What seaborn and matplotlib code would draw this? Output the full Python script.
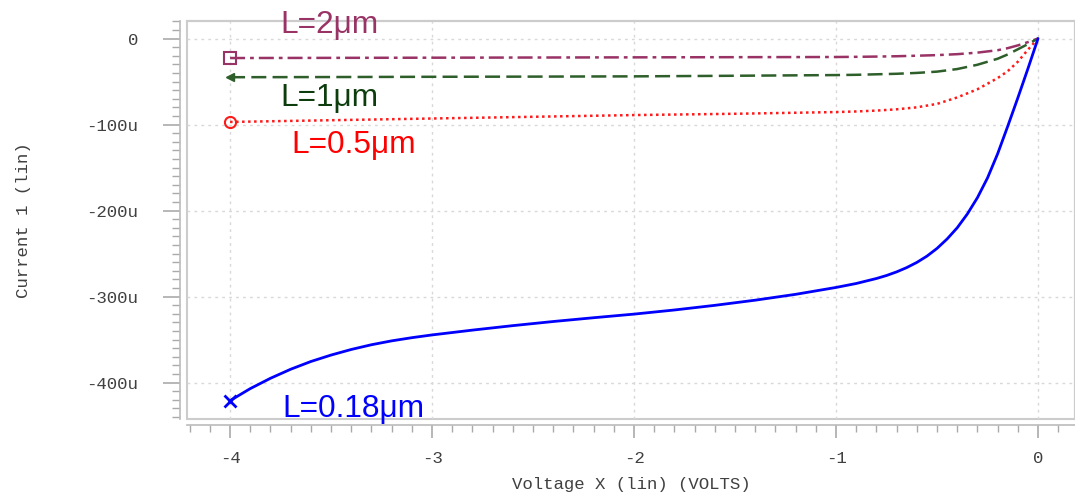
import pandas as pd
import matplotlib.pyplot as plt
import matplotlib.ticker as mticker
from matplotlib.patches import Rectangle
import seaborn as sns


# sweep voltage (V) and drain current (uA) for each gate length
v_018 = [-4.0, -3.9, -3.8, -3.7, -3.6, -3.5, -3.4, -3.3, -3.2, -3.1, -3.0, -2.8, -2.6,
         -2.4, -2.2, -2.0, -1.8, -1.6, -1.4, -1.2, -1.0, -0.9, -0.8, -0.75, -0.7, -0.65,
         -0.6, -0.55, -0.5, -0.45, -0.4, -0.35, -0.3, -0.25, -0.2, -0.15, -0.1, -0.05, 0.0]
i_018 = [-421, -407, -395, -384.5, -375.5, -368, -361.5, -356, -351.5, -347.8, -344.6, -339,
         -333.8, -329, -324.6, -320.4, -315.6, -310.2, -304.2, -297.4, -289.4, -284.8, -279,
         -275.5, -271.3, -266.3, -260.3, -253, -244, -233, -220, -204, -185, -162, -134, -102,
         -69, -35, 0]

v_lo = [-4.0, -3.5, -3.0, -2.5, -2.0, -1.5, -1.0, -0.9, -0.8, -0.7, -0.6, -0.5,
        -0.4, -0.3, -0.2, -0.15, -0.1, -0.05, 0.0]
i_05 = [-97, -95, -93, -91, -89, -87.5, -85.5, -84.8, -83.8, -82.3, -80, -76,
        -68.5, -59, -46, -38, -27, -13, 0]
i_1 = [-45, -44.8, -44.5, -44.3, -44, -43.3, -42.5, -42.2, -41.6, -41, -40, -38.5,
       -35.5, -30.5, -23.5, -18.5, -12.5, -6.5, 0]
i_2 = [-22.7, -22.5, -22.3, -22.1, -21.9, -21.7, -21.5, -21.3, -21, -20.6, -20, -19.3,
       -18.2, -16.4, -13.6, -11.2, -8, -4.2, 0]

labels = ["L=2μm", "L=1μm", "L=0.5μm", "L=0.18μm"]
y_ticks = [0, -100, -200, -300, -400]
x_ticks = [-4, -3, -2, -1, 0]

sns.set_style("white")
plt.rcParams['font.family'] = ['Liberation Mono', 'DejaVu Sans Mono']

fig = plt.figure(figsize=(10.75, 4.93), dpi=100)
ax = fig.add_axes([0.174, 0.150, 0.826, 0.808])

series = [
    (v_lo, i_2, "#993366", (0, (6, 2, 1.5, 2)), "s", labels[0], "#993366"),
    (v_lo, i_1, "#2e5e2a", (0, (6, 2.5)), "<", labels[1], "#0d3d0d"),
    (v_lo, i_05, "#ff1a1a", (0, (1, 1.4)), "o", labels[2], "#ff0000"),
    (v_018, i_018, "#0000ff", "-", "x", labels[3], "#0000ff"),
]
label_pos = [(-3.752, 6.4), (-3.752, -78.5), (-3.698, -133), (-3.743, -440)]

for (volt, cur, col, ls, mk, lab, tcol), (tx, ty) in zip(series, label_pos):
    df = pd.DataFrame({"V": volt, "I": cur})
    sns.lineplot(data=df, x="V", y="I", ax=ax, color=col, linestyle=ls,
                 linewidth=2 if ls == "-" else 1.8, sort=False)
    first = df.iloc[:1]
    if mk == "x":
        ax.plot(first["V"], first["I"], marker="x", color=col, markersize=9,
                markeredgewidth=2, linestyle="none")
    elif mk == "<":
        ax.plot(first["V"], first["I"], marker="<", color=col, markersize=6,
                linestyle="none")
    else:
        ax.plot(first["V"], first["I"], marker=mk, markerfacecolor="none",
                markeredgecolor=col, markersize=8, markeredgewidth=1.5,
                linestyle="none")
    ax.text(tx, ty, lab, color=tcol, fontsize=22.8, ha="left", va="baseline",
            family=["Liberation Sans", "DejaVu Sans"])

ax.set_xlim(-4.213, 0.183)
ax.set_ylim(-442.4, 20.7)

ax.xaxis.set_major_locator(mticker.FixedLocator(x_ticks))
ax.xaxis.set_minor_locator(mticker.MultipleLocator(0.1))
ax.yaxis.set_major_locator(mticker.FixedLocator(y_ticks))
ax.yaxis.set_minor_locator(mticker.MultipleLocator(10))
ax.yaxis.set_major_formatter(mticker.FuncFormatter(lambda v, p: "0" if v == 0 else f"{int(v)}u"))
ax.xaxis.set_major_formatter(mticker.FuncFormatter(lambda v, p: f"{int(v)}"))

ax.grid(True, which="major", color="#d8d8d8", linestyle=(0, (2, 3)), linewidth=1)

# outer frame of the plot area
for side in ["top", "right"]:
    ax.spines[side].set_color("#cccccc")
    ax.spines[side].set_linewidth(1.5)
ax.add_patch(Rectangle((0, 0), 1, 1, transform=ax.transAxes, fill=False,
                       edgecolor="#cccccc", linewidth=1.5, clip_on=False, zorder=0))
ax.spines["left"].set_position(("outward", 5))
ax.spines["bottom"].set_position(("outward", 4))
for side in ["left", "bottom"]:
    ax.spines[side].set_color("#bbbbbb")
    ax.spines[side].set_linewidth(1.2)

ax.tick_params(axis="y", which="major", direction="out", length=12, width=1.2,
               color="#aaaaaa", pad=18, labelsize=12.5, labelcolor="#404040", left=True)
ax.tick_params(axis="y", which="minor", direction="out", length=6, width=1,
               color="#aaaaaa", left=True)
ax.tick_params(axis="x", which="major", direction="out", length=9, width=1.2,
               color="#aaaaaa", pad=10, labelsize=12.5, labelcolor="#404040", bottom=True)
ax.tick_params(axis="x", which="minor", direction="out", length=5, width=1,
               color="#aaaaaa", bottom=True)

ax.set_xlabel("Voltage X (lin) (VOLTS)", fontsize=12.5, color="#404040", labelpad=8)
ax.set_ylabel("Current 1 (lin)", fontsize=12.5, color="#404040", labelpad=40)

plt.savefig("out.png", dpi=100)
